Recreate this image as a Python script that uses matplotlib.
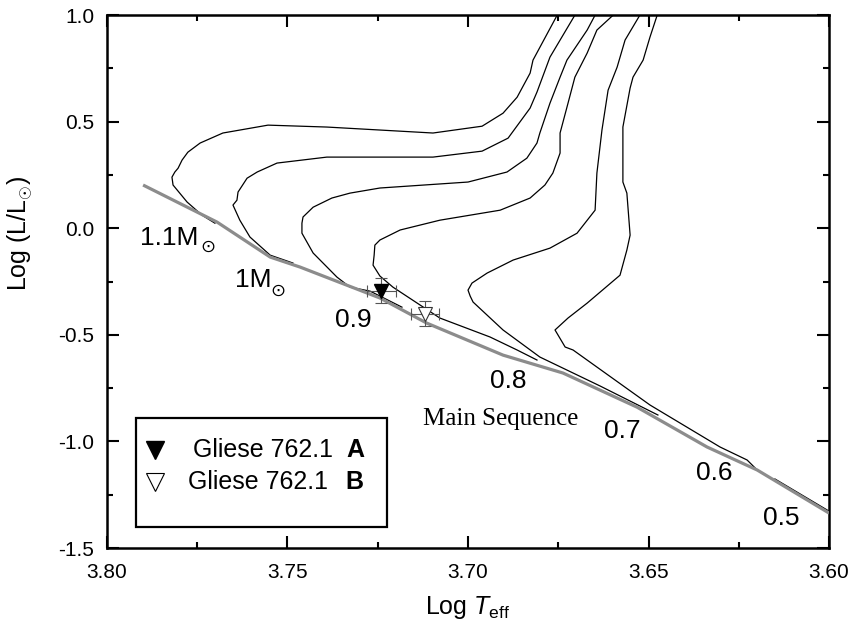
import numpy as np
import matplotlib
matplotlib.use("Agg")
import matplotlib.pyplot as plt
from matplotlib.patches import Rectangle
from matplotlib.ticker import MultipleLocator, FormatStrFormatter

plt.rcParams["font.family"] = ["Liberation Sans", "DejaVu Sans"]
plt.rcParams["mathtext.fontset"] = "custom"
plt.rcParams["mathtext.rm"] = "Liberation Sans"
plt.rcParams["mathtext.it"] = "Liberation Sans:italic"
plt.rcParams["mathtext.bf"] = "Liberation Sans:bold"

# evolutionary tracks (log Teff, log L/Lsun)
t_11 = [3.7701, 3.7737, 3.7778, 3.7817, 3.7820, 3.7812, 3.7803, 3.7792, 3.7776, 3.7742,
        3.7679, 3.7554, 3.7391, 3.7097, 3.6961, 3.6903, 3.6864, 3.6828, 3.6820, 3.6753]
l_11 = [0.024, 0.062, 0.123, 0.203, 0.240, 0.264, 0.282, 0.320, 0.357, 0.400,
        0.447, 0.484, 0.475, 0.447, 0.479, 0.540, 0.615, 0.728, 0.789, 1.0]

t_10 = [3.7485, 3.7548, 3.7604, 3.7632, 3.7651, 3.7640, 3.7637, 3.7612, 3.7584, 3.7529,
        3.7391, 3.7097, 3.6961, 3.6889, 3.6828, 3.6809, 3.6773, 3.6704]
l_10 = [-0.163, -0.126, -0.041, 0.038, 0.109, 0.132, 0.170, 0.235, 0.264, 0.306,
        0.334, 0.334, 0.362, 0.423, 0.564, 0.639, 0.803, 1.0]

t_09 = [3.7183, 3.7271, 3.7327, 3.7363, 3.7429, 3.7460, 3.7460, 3.7457, 3.7429, 3.7377,
        3.7327, 3.7244, 3.7000, 3.6892, 3.6837, 3.6809, 3.6801, 3.6773, 3.6745, 3.6726,
        3.6670, 3.6648]
l_09 = [-0.370, -0.295, -0.276, -0.229, -0.116, -0.023, 0.024, 0.053, 0.099, 0.142,
        0.165, 0.189, 0.217, 0.264, 0.329, 0.400, 0.447, 0.587, 0.709, 0.789,
        0.930, 1.0]

t_08 = [3.6809, 3.6864, 3.6939, 3.7078, 3.7208, 3.7244, 3.7263, 3.7260, 3.7258, 3.7244,
        3.7188, 3.7078, 3.6911, 3.6828, 3.6787, 3.6765, 3.6745, 3.6745, 3.6723, 3.6704,
        3.6670, 3.6643, 3.6598]
l_08 = [-0.618, -0.571, -0.510, -0.421, -0.276, -0.224, -0.173, -0.126, -0.079, -0.055,
        -0.008, 0.038, 0.085, 0.142, 0.203, 0.259, 0.353, 0.447, 0.587, 0.709,
        0.822, 0.930, 1.0]

t_07 = [3.6474, 3.6634, 3.6801, 3.6903, 3.6986, 3.6994, 3.7000, 3.6989, 3.6947, 3.6875,
        3.6773, 3.6698, 3.6648, 3.6643, 3.6629, 3.6612, 3.6587, 3.6565, 3.6524]
l_07 = [-0.876, -0.740, -0.604, -0.477, -0.346, -0.318, -0.290, -0.257, -0.210, -0.149,
        -0.093, -0.023, 0.085, 0.259, 0.461, 0.648, 0.756, 0.883, 1.0]

t_06 = [3.6199, 3.6227, 3.6302, 3.6496, 3.6709, 3.6731, 3.6759, 3.6723, 3.6670, 3.6579,
        3.6560, 3.6551, 3.6560, 3.6571, 3.6571, 3.6551, 3.6543, 3.6515, 3.6496, 3.6476]
l_06 = [-1.134, -1.087, -1.026, -0.829, -0.571, -0.557, -0.477, -0.421, -0.351, -0.220,
        -0.102, -0.032, 0.165, 0.217, 0.475, 0.658, 0.709, 0.789, 0.897, 1.0]

t_05 = [3.6150, 3.6000]
l_05 = [-1.176, -1.327]

# zero-age main sequence
t_zams = [3.790, 3.7695, 3.7548, 3.7465, 3.7244, 3.7114, 3.6903, 3.6737, 3.6532, 3.6338,
          3.6199, 3.600]
l_zams = [0.203, 0.029, -0.135, -0.182, -0.327, -0.445, -0.595, -0.679, -0.839, -1.026,
          -1.134, -1.336]

# Gliese 762.1 components
star_names = ["A", "B"]
star_t = [3.7240, 3.7119]
star_t_err = [0.004, 0.004]
star_l = [-0.292, -0.400]
star_l_err = [0.06, 0.06]

# mass labels: (text, log Teff, log L, alignment, sun symbol offset in points or None)
mass_labels = [("1.1M", 3.7909, -0.079, "left", (49, -1)),
               ("1M", 3.7645, -0.276, "left", (31, -3)),
               ("0.9", 3.7319, -0.463, "center", None),
               ("0.8", 3.6889, -0.750, "center", None),
               ("0.7", 3.6573, -0.984, "center", None),
               ("0.6", 3.6319, -1.181, "center", None),
               ("0.5", 3.6133, -1.392, "center", None)]

fig = plt.figure(figsize=(8.49, 6.31), dpi=100)
ax = fig.add_axes([0.126, 0.1315, 0.8505, 0.8445])

for t, l in [(t_11, l_11), (t_10, l_10), (t_09, l_09), (t_08, l_08),
             (t_07, l_07), (t_06, l_06), (t_05, l_05)]:
    ax.plot(t, l, color="black", lw=0.9, zorder=2)

ax.plot(t_zams, l_zams, color="#8c8c8c", lw=2.3, zorder=3, solid_capstyle="butt")

ax.errorbar(star_t, star_l, xerr=star_t_err, yerr=star_l_err, fmt="none",
            ecolor="#555555", elinewidth=0.8, capsize=4, capthick=0.8, zorder=4)
ax.plot(star_t[0], star_l[0], "v", ms=9.5, mfc="black", mec="black", zorder=5)
ax.plot(star_t[1], star_l[1], "v", ms=9.5, mfc="white", mec="#333333", mew=0.8, zorder=5)

for txt, x, y, ha, sun in mass_labels:
    ax.text(x, y, txt, fontsize=19, ha=ha, va="baseline")
    if sun is not None:
        ax.annotate("\u2299", xy=(x, y), xytext=sun, textcoords="offset points",
                    fontsize=13, ha="center", va="center", family="DejaVu Sans")

ax.text(3.6909, -0.923, "Main Sequence", fontsize=18, ha="center", va="baseline",
        family="Liberation Serif")

# legend box
ax.add_patch(Rectangle((0.040, 0.039), 0.348, 0.205, transform=ax.transAxes,
                       fill=False, lw=1.6, ec="black", zorder=6))
ax.plot(0.066, 0.184, "v", ms=13, mfc="black", mec="black",
        transform=ax.transAxes, zorder=7, clip_on=False)
ax.plot(0.066, 0.124, "v", ms=13, mfc="white", mec="black", mew=0.8,
        transform=ax.transAxes, zorder=7, clip_on=False)
ax.text(0.119, 0.184, "Gliese 762.1", fontsize=18, transform=ax.transAxes,
        ha="left", va="center")
ax.text(0.332, 0.184, star_names[0], fontsize=18, weight="bold", transform=ax.transAxes,
        ha="left", va="center")
ax.text(0.112, 0.124, "Gliese 762.1", fontsize=18, transform=ax.transAxes,
        ha="left", va="center")
ax.text(0.330, 0.124, star_names[1], fontsize=18, weight="bold", transform=ax.transAxes,
        ha="left", va="center")

ax.set_xlim(3.80, 3.60)
ax.set_ylim(-1.5, 1.0)
ax.xaxis.set_major_locator(MultipleLocator(0.05))
ax.xaxis.set_minor_locator(MultipleLocator(0.025))
ax.yaxis.set_major_locator(MultipleLocator(0.5))
ax.yaxis.set_minor_locator(MultipleLocator(0.25))
ax.xaxis.set_major_formatter(FormatStrFormatter("%.2f"))
ax.yaxis.set_major_formatter(FormatStrFormatter("%.1f"))
ax.tick_params(which="both", direction="in", top=True, right=True, width=1.5,
               labelsize=15)
ax.tick_params(which="major", length=8.5)
ax.tick_params(which="minor", length=4.5)
ax.tick_params(axis="x", pad=11)
ax.tick_params(axis="y", pad=9)
for s in ax.spines.values():
    s.set_linewidth(1.8)

ax.set_xlabel(r"Log $T_{\rm eff}$", fontsize=18)
ax.set_ylabel(r"Log (L/L$_{\odot}$)", fontsize=18)
ax.yaxis.set_label_coords(-0.099, 0.59)
ax.xaxis.set_label_coords(0.5, -0.086)

fig.savefig("out.png", dpi=100)
